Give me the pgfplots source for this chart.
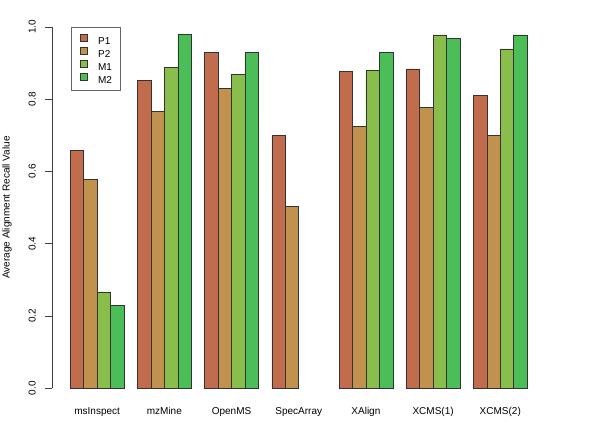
\documentclass[border=0pt]{standalone}
\usepackage{pgfplots}
\pgfplotsset{compat=1.18}
\usepackage{fontspec}
\setmainfont{Liberation Sans}
\definecolor{cP1}{RGB}{194,108,78}
\definecolor{cP2}{RGB}{193,146,77}
\definecolor{cM1}{RGB}{138,190,76}
\definecolor{cM2}{RGB}{76,190,88}
\begin{document}
\begin{tikzpicture}
\begin{axis}[
  at={(52bp,26.5bp)}, anchor=south west,
  scale only axis, width=480bp, height=390bp,
  xmin=-0.36, xmax=35.36, ymin=-0.04, ymax=1.04,
  axis line style={draw=none},
  xtick pos=bottom, ytick pos=left,
  xtick={3,8,13,18,23,28,33},
  xticklabels={msInspect,mzMine,OpenMS,SpecArray,XAlign,XCMS(1),XCMS(2)},
  x tick style={draw=none},
  xticklabel style={font=\fontsize{10bp}{12bp}\selectfont, inner sep=0pt, yshift=2bp},
  ytick={0,0.2,0.4,0.6,0.8,1.0},
  yticklabels={0.0,0.2,0.4,0.6,0.8,1.0},
  y tick style={black!75, line width=0.5pt},
  tick align=outside, major tick length=7bp,
  yticklabel style={font=\fontsize{10bp}{12bp}\selectfont, xshift=-9bp, rotate=90, anchor=south, inner sep=0pt},
  ylabel={Average Alignment Recall Value},
  ylabel style={font=\fontsize{10bp}{12bp}\selectfont, at={(axis description cs:-0.09375,0.5)}, anchor=center},
  ybar, bar width=1, bar shift=0pt,
  every axis plot/.append style={draw=black!80, line width=0.5pt},
  legend cell align=left,
  legend image code/.code={\draw[#1] (0bp,-0.5bp) rectangle (7bp,6.5bp);},
  legend style={at={(axis cs:1.08,1.0)}, anchor=north west,
    draw=black!60, line width=0.5pt, inner xsep=8bp, inner ysep=7bp,
    font=\fontsize{10bp}{12bp}\selectfont,
    nodes={inner sep=0pt, text height=7.2bp, text depth=0bp},
    row sep=2.5bp, column sep=11bp},
]
\addplot[fill=cP1] coordinates {(1.5,0.658) (6.5,0.852) (11.5,0.929) (16.5,0.699) (21.5,0.877) (26.5,0.884) (31.5,0.810)};
\addplot[fill=cP2] coordinates {(2.5,0.577) (7.5,0.766) (12.5,0.829) (17.5,0.503) (22.5,0.724) (27.5,0.778) (32.5,0.699)};
\addplot[fill=cM1] coordinates {(3.5,0.266) (8.5,0.889) (13.5,0.869) (23.5,0.879) (28.5,0.978) (33.5,0.939)};
\addplot[fill=cM2] coordinates {(4.5,0.228) (9.5,0.979) (14.5,0.929) (24.5,0.929) (29.5,0.969) (34.5,0.978)};
\legend{P1,P2,M1,M2}
\draw[black!75, line width=0.5pt] (axis cs:-0.36,0) -- (axis cs:-0.36,1);
\end{axis}
\pgfresetboundingbox
\useasboundingbox (0,0) rectangle (600bp,429bp);
\end{tikzpicture}
\end{document}
